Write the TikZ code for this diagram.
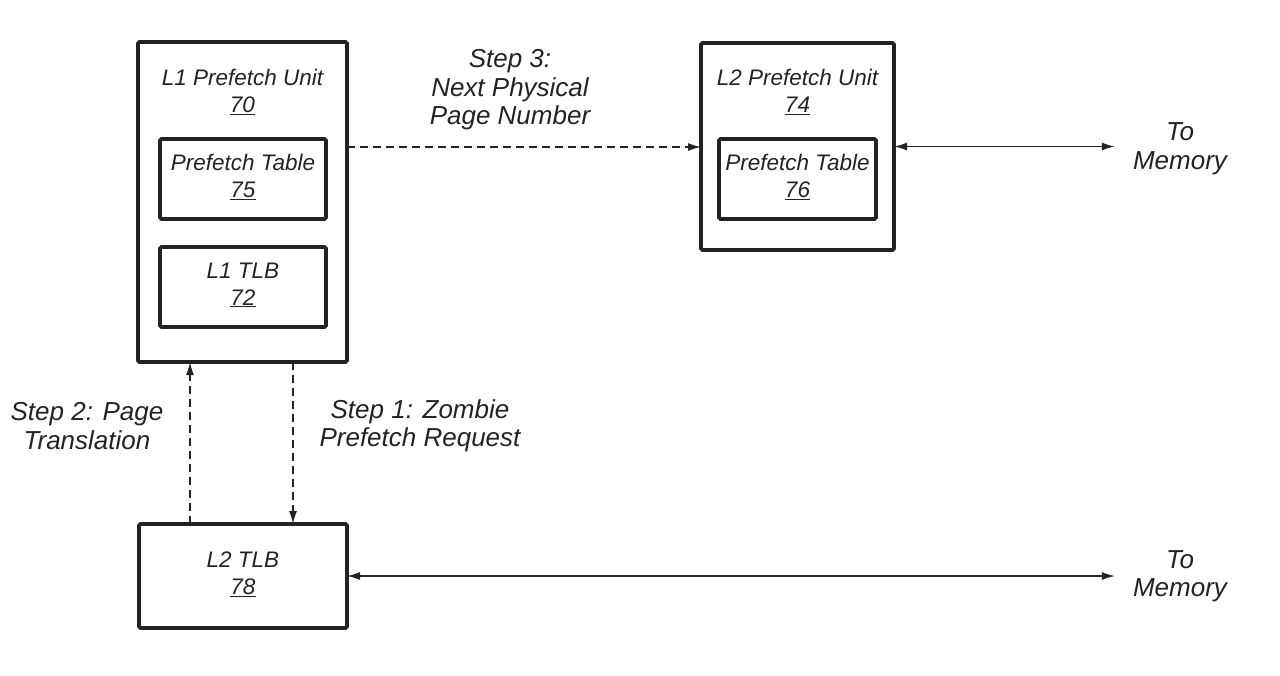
\documentclass[tikz,border=0pt]{standalone}
\usepackage{fontspec}
\setmainfont{Liberation Sans}
\usetikzlibrary{arrows.meta}
\definecolor{ink}{RGB}{35,35,35}
\tikzset{mytip/.tip={Latex[length=13pt,width=8pt]}}
\begin{document}
\begin{tikzpicture}[x=1pt,y=-1pt,
  box/.style={draw=ink, line width=3.6pt, rounded corners=1.5pt, inner sep=0pt, outer sep=0pt},
  boxtxt/.style={font=\fontsize{22.5}{27}\selectfont\itshape, align=center, text=ink, inner sep=0pt},
  lbl/.style={font=\fontsize{26}{28.5}\selectfont\itshape, align=center, text=ink, inner sep=0pt},
  dashar/.style={draw=ink, line width=1.5pt, dash pattern=on 8pt off 5pt},
  solidar/.style={draw=ink, line width=1.5pt}
]
\useasboundingbox (0,0) rectangle (1280,675);

% boxes
\node[box, minimum width=209pt, minimum height=320pt] (l1pu) at (242.5,202) {};
\node[box, minimum width=166pt, minimum height=80pt] (pt75) at (243,179) {};
\node[box, minimum width=166pt, minimum height=80pt] (tlb72) at (243,287) {};
\node[box, minimum width=193pt, minimum height=207pt] (l2pu) at (797.5,146.5) {};
\node[box, minimum width=157pt, minimum height=80pt] (pt76) at (797.5,179) {};
\node[box, minimum width=208pt, minimum height=104pt] (l2tlb) at (243,576) {};

% box texts
\node[boxtxt] (t70) at (242.5,92) {L1 Prefetch Unit\\\underline{70}};
\node[boxtxt] (t75) at (243,177) {Prefetch Table\\\underline{75}};
\node[boxtxt] (t72) at (243,285) {L1 TLB\\\underline{72}};
\node[boxtxt] (t74) at (797.5,92) {L2 Prefetch Unit\\\underline{74}};
\node[boxtxt] (t76) at (797.5,177) {Prefetch Table\\\underline{76}};
\node[boxtxt] (t78) at (243,574) {L2 TLB\\\underline{78}};

% labels
\node[lbl] (s3lbl) at (510,90) {Step 3:\\Next Physical\\Page Number};
\node[lbl] (s1lbl) at (420,426) {Step 1: Zombie\\Prefetch Request};
\node[lbl] (s2lbl) at (87,426) {Step 2: Page\\Translation};
\node[lbl] (mem1) at (1180,149) {To\\Memory};
\node[lbl] (mem2) at (1180,576) {To\\Memory};

% helper coordinates
\coordinate (s3y) at (0,147);
\coordinate (s1x) at (293,0);
\coordinate (s2x) at (190,0);

% connectors
\draw[dashar, -{mytip}] (l1pu.east |- s3y) -- (l2pu.west |- s3y);
\draw[dashar, -{mytip}] (l1pu.south -| s1x) -- (l2tlb.north -| s1x);
\draw[dashar, -{mytip}] (l2tlb.north -| s2x) -- (l1pu.south -| s2x);
\draw[solidar, {mytip}-{mytip}, shorten >=18pt] (l2pu.east) -- (mem1.west |- l2pu.east);
\draw[solidar, {mytip}-{mytip}, shorten >=18pt] (l2tlb.east) -- (mem2.west |- l2tlb.east);
\end{tikzpicture}
\end{document}
